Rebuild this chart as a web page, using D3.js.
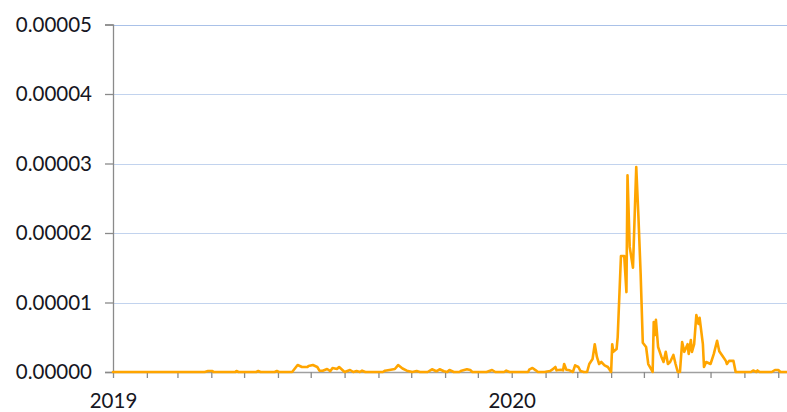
<!DOCTYPE html>
<html>
<head>
<meta charset="utf-8">
<script src="https://cdn.jsdelivr.net/npm/d3@7"></script>
<style>
  html, body { margin: 0; padding: 0; background: #fff; }
  svg { display: block; }
</style>
</head>
<body>
<svg id="chart" width="787" height="412"></svg>
<script>
// ---- data ----
const dates = [
  "2019-01-01","2019-03-26","2019-03-29","2019-04-02","2019-04-03","2019-04-23","2019-04-24","2019-04-26",
  "2019-05-12","2019-05-14","2019-05-16","2019-05-29","2019-05-31","2019-06-02","2019-06-14","2019-06-19",
  "2019-06-23","2019-06-28","2019-06-29","2019-07-03","2019-07-07","2019-07-09","2019-07-12","2019-07-16",
  "2019-07-19","2019-07-21","2019-07-25","2019-07-27","2019-07-30","2019-08-01","2019-08-06","2019-08-09",
  "2019-08-12","2019-08-15","2019-08-17","2019-08-20","2019-09-05","2019-09-07","2019-09-11","2019-09-16",
  "2019-09-19","2019-09-23","2019-09-27","2019-10-02","2019-10-06","2019-10-09","2019-10-16","2019-10-20",
  "2019-10-24","2019-10-27","2019-10-31","2019-11-03","2019-11-05","2019-11-09","2019-11-14","2019-11-16",
  "2019-11-21","2019-11-24","2019-11-26","2019-12-09","2019-12-14","2019-12-17","2019-12-25","2019-12-27",
  "2019-12-30","2020-01-16","2020-01-17","2020-01-20","2020-01-23","2020-01-25","2020-01-31","2020-02-05",
  "2020-02-07","2020-02-10","2020-02-11","2020-02-15","2020-02-17","2020-02-18","2020-02-20","2020-02-23",
  "2020-02-26","2020-02-28","2020-03-02","2020-03-04","2020-03-07","2020-03-10","2020-03-12","2020-03-15",
  "2020-03-17","2020-03-19","2020-03-21","2020-03-23","2020-03-26","2020-03-29","2020-03-31","2020-04-01",
  "2020-04-02","2020-04-03","2020-04-06","2020-04-07","2020-04-10","2020-04-13","2020-04-15","2020-04-16",
  "2020-04-18","2020-04-21","2020-04-24","2020-04-26","2020-04-28","2020-04-30","2020-05-03","2020-05-05",
  "2020-05-08","2020-05-09","2020-05-10","2020-05-11","2020-05-12","2020-05-14","2020-05-17","2020-05-19",
  "2020-05-21","2020-05-23","2020-05-25","2020-05-28","2020-05-30","2020-06-01","2020-06-03","2020-06-05",
  "2020-06-07","2020-06-10","2020-06-11","2020-06-13","2020-06-14","2020-06-16","2020-06-18","2020-06-20",
  "2020-06-21","2020-06-24","2020-06-25","2020-06-27","2020-07-01","2020-07-04","2020-07-07","2020-07-09",
  "2020-07-12","2020-07-15","2020-07-16","2020-07-18","2020-07-22","2020-07-24","2020-08-07","2020-08-09",
  "2020-08-12","2020-08-13","2020-08-15","2020-08-26","2020-08-29","2020-09-01","2020-09-03","2020-09-09"
];
const values = [
  0, 0, 0.14e-6, 0.14e-6, 0, 0, 0.14e-6, 0,
  0, 0.14e-6, 0, 0, 0.14e-6, 0, 0, 1.0e-6,
  0.72e-6, 0.72e-6, 0.86e-6, 1.0e-6, 0.72e-6, 0.19e-6, 0.19e-6, 0.43e-6,
  0.14e-6, 0.58e-6, 0.43e-6, 0.72e-6, 0.29e-6, 0, 0.29e-6, 0,
  0.14e-6, 0, 0.19e-6, 0, 0, 0.19e-6, 0.29e-6, 0.43e-6,
  1.0e-6, 0.5e-6, 0.19e-6, 0, 0.14e-6, 0, 0, 0.39e-6,
  0.1e-6, 0.39e-6, 0.1e-6, 0, 0.29e-6, 0, 0, 0.19e-6,
  0.39e-6, 0.29e-6, 0, 0, 0.29e-6, 0, 0, 0.19e-6,
  0, 0, 0.33e-6, 0.58e-6, 0.24e-6, 0, 0, 0.14e-6,
  0.33e-6, 0.72e-6, 0.24e-6, 0.33e-6, 0.24e-6, 1.15e-6, 0.33e-6, 0.24e-6,
  0, 0.96e-6, 0.72e-6, 0.14e-6, 0, 0, 1.15e-6, 1.87e-6,
  4.0e-6, 2.16e-6, 1.15e-6, 1.44e-6, 0.96e-6, 0.72e-6, 0.24e-6, 0,
  4.0e-6, 2.9e-6, 3.3e-6, 5.0e-6, 16.7e-6, 16.7e-6, 11.5e-6, 28.3e-6,
  18.0e-6, 15.0e-6, 29.5e-6, 22.3e-6, 14.2e-6, 4.2e-6, 3.6e-6, 1.15e-6,
  0.29e-6, 0, 7.2e-6, 5.3e-6, 7.5e-6, 3.6e-6, 2.2e-6, 1.44e-6,
  2.9e-6, 1.15e-6, 1.44e-6, 2.45e-6, 1.15e-6, 0, 0, 4.3e-6,
  2.9e-6, 4.0e-6, 2.6e-6, 4.6e-6, 2.9e-6, 4.0e-6, 8.2e-6, 6.9e-6,
  7.8e-6, 4.0e-6, 0.72e-6, 1.44e-6, 1.15e-6, 2.6e-6, 4.5e-6, 3.0e-6,
  2.3e-6, 1.6e-6, 1.15e-6, 1.6e-6, 1.6e-6, 0, 0, 0.22e-6,
  0, 0.22e-6, 0, 0, 0.29e-6, 0.29e-6, 0, 0
];
const yTicks = [0, 0.00001, 0.00002, 0.00003, 0.00004, 0.00005];
const yTickLabels = ["0.00000", "0.00001", "0.00002", "0.00003", "0.00004", "0.00005"];
const xDomain = ["2019-01-01", "2020-09-09"];

// ---- drawing ----
(function () {
const parse = d3.utcParse("%Y-%m-%d");
const data = dates.map((d, i) => ({ date: parse(d), value: values[i] }));

const mLeft = 113, mRight = 787, mTop = 24.5, mBottom = 372;

const svg = d3.select("#chart");
const x = d3.scaleUtc().domain(xDomain.map(parse)).range([mLeft, mRight]);
const y = d3.scaleLinear().domain([0, 0.00005]).range([mBottom, mTop]);

const font = "Lato, 'Open Sans', sans-serif";
const textColor = "#161622";

// gridlines
svg.append("g").selectAll("line")
  .data(yTicks.filter(v => v > 0))
  .join("line")
  .attr("x1", mLeft).attr("x2", mRight)
  .attr("y1", d => Math.round(y(d)) + 0.5).attr("y2", d => Math.round(y(d)) + 0.5)
  .attr("stroke", d => d === 0.00005 ? "#a9c1e8" : "#c2d3ee").attr("stroke-width", 1.2);

// y axis
const yAxis = d3.axisLeft(y).tickValues(yTicks)
  .tickFormat((d, i) => yTickLabels[i]).tickSize(8).tickPadding(13);
const gy = svg.append("g").attr("transform", `translate(${mLeft},0)`).call(yAxis);
gy.select(".domain").attr("stroke", "#8a8a8a").attr("stroke-width", 1.3);
gy.selectAll(".tick line").attr("stroke", "#8a8a8a").attr("stroke-width", 1.3);
gy.selectAll(".tick text").attr("font-family", font).attr("font-size", 20.5).attr("fill", textColor);

// x axis
const xAxis = d3.axisBottom(x).ticks(d3.utcMonth.every(1))
  .tickFormat(d => d.getUTCMonth() === 0 ? d3.utcFormat("%Y")(d) : "")
  .tickSize(6).tickSizeOuter(0).tickPadding(15);
const gx = svg.append("g").attr("transform", `translate(0,${mBottom})`).call(xAxis);
gx.select(".domain").attr("stroke", "#a0a0a0").attr("stroke-width", 1.3);
gx.selectAll(".tick line").attr("stroke", "#8a8a8a").attr("stroke-width", 1.3);
gx.selectAll(".tick text").attr("font-family", font).attr("font-size", 20.5).attr("fill", textColor);

// line
const line = d3.line().x(d => x(d.date)).y(d => y(d.value)).curve(d3.curveLinear);
svg.append("path").datum(data)
  .attr("d", line)
  .attr("fill", "none")
  .attr("stroke", "#ffa500")
  .attr("stroke-width", 2.6)
  .attr("stroke-linejoin", "round")
  .attr("stroke-linecap", "round");
})();
</script>
</body>
</html>
